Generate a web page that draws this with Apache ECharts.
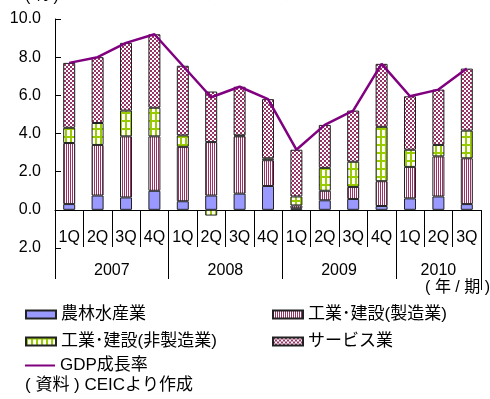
<!DOCTYPE html>
<html>
<head>
<meta charset="utf-8">
<script src="https://cdn.jsdelivr.net/npm/echarts@6/dist/echarts.min.js"></script>
<style>
  html, body { margin: 0; padding: 0; background: #fff; }
  #chart { width: 490px; height: 399px; }
</style>
</head>
<body>
<div id="chart"></div>
<script>
// Quarterly categories and year groups
const quarters = ['1Q','2Q','3Q','4Q','1Q','2Q','3Q','4Q','1Q','2Q','3Q','4Q','1Q','2Q','3Q'];
const years = ['2007', '2008', '2009', '2010'];
const quartersPerYear = [4, 4, 4, 3];

// Contributions to real GDP growth by sector (percentage points)
const agriculture      = [0.30, 0.75, 0.65, 1.00, 0.45, 0.75, 0.85, 1.25, 0.08, 0.50, 0.57, 0.20, 0.60, 0.70, 0.30];
const manufacturing    = [3.20, 2.65, 3.20, 2.85, 2.85, 2.80, 3.00, 1.35, 0.15, 0.50, 0.63, 1.30, 1.65, 2.10, 2.40];
const nonManufacturing = [0.80, 1.15, 1.35, 1.50, 0.60, -0.30, 0.05, 0.10, 0.47, 1.20, 1.32, 2.85, 0.90, 0.60, 1.45];
const services         = [3.40, 3.45, 3.55, 3.85, 3.65, 2.65, 2.55, 3.10, 2.45, 2.25, 2.68, 3.30, 2.80, 2.90, 3.25];
// Real GDP growth rate (%)
const gdpGrowth        = [7.7, 8.0, 8.75, 9.2, 7.55, 5.9, 6.45, 5.8, 3.15, 4.45, 5.2, 7.65, 5.95, 6.3, 7.4];

// Value axis ticks
const yMin = -2, yMax = 10, yStep = 2;

const FONT = "'Liberation Sans', 'Noto Sans CJK JP', sans-serif";
const CHART_HEIGHT = 399;

// Year boundaries and centres along the quarter axis
const yearBounds = [0];
quartersPerYear.forEach(n => yearBounds.push(yearBounds[yearBounds.length - 1] + n));
const yearCentres = years.map((_, i) => (yearBounds[i] + yearBounds[i + 1]) / 2);

// Hatch fills drawn on small tiles
function tile(w, h, draw) {
  const c = document.createElement('canvas');
  c.width = w; c.height = h;
  const ctx = c.getContext('2d');
  ctx.fillStyle = '#ffffff';
  ctx.fillRect(0, 0, w, h);
  draw(ctx);
  return { image: c, repeat: 'repeat' };
}
const stripeFill = tile(2, 2, ctx => {
  ctx.fillStyle = '#993366';
  ctx.fillRect(0, 0, 1, 2);
});
const gridFill = tile(5, 8, ctx => {
  ctx.fillStyle = '#99cc00';
  ctx.fillRect(0, 0, 2, 8);
  ctx.fillRect(0, 0, 5, 2);
});
const checkerFill = tile(4, 4, ctx => {
  ctx.fillStyle = '#993366';
  ctx.fillRect(0, 0, 2, 2);
  ctx.fillRect(2, 2, 2, 2);
});

const barBorder = { borderColor: '#222', borderWidth: 1 };

function barSeries(name, data, color) {
  return {
    name, type: 'bar', stack: 'total', data,
    barWidth: 12,
    itemStyle: Object.assign({ color }, barBorder),
    emphasis: { disabled: true }
  };
}

// Identical plot rectangles: the main chart plus two overlays for the year grouping
const plotRect = { left: 55, right: 9, top: 19, bottom: 151, containLabel: false, outerBoundsMode: 'none' };
const hiddenY = gridIndex => ({
  type: 'value', gridIndex, min: yMin, max: yMax, interval: yStep, show: false
});
// The category axes sit on the zero line, this far above the plot's bottom edge
const plotHeight = CHART_HEIGHT - plotRect.top - plotRect.bottom;
const zeroLift = -Math.round(plotHeight * (0 - yMin) / (yMax - yMin));

const chart = echarts.init(document.getElementById('chart'), null, { renderer: 'canvas' });

const legendText = { fontSize: 17, color: '#000', fontFamily: FONT };

chart.setOption({
  animation: false,
  textStyle: { fontFamily: FONT },
  grid: [Object.assign({}, plotRect), Object.assign({}, plotRect), Object.assign({}, plotRect)],
  xAxis: [
    {
      type: 'category',
      gridIndex: 0,
      position: 'bottom',
      offset: zeroLift,
      data: quarters,
      boundaryGap: true,
      axisLine: { onZero: false, lineStyle: { color: '#000', width: 1 } },
      axisTick: { show: true, interval: 0, inside: false, length: 37, lineStyle: { color: '#000' } },
      axisLabel: { interval: 0, margin: 20, fontSize: 16, color: '#000', fontFamily: FONT },
      splitLine: { show: false }
    },
    {
      type: 'value',
      gridIndex: 1,
      position: 'bottom',
      offset: zeroLift,
      min: 0, max: quarters.length,
      axisLine: { show: false, onZero: false },
      axisTick: { show: true, inside: false, length: 69, customValues: yearBounds.slice(0, -1), lineStyle: { color: '#000' } },
      axisLabel: {
        show: true, margin: 53, fontSize: 16, color: '#000', fontFamily: FONT,
        customValues: yearCentres,
        formatter: v => years[yearCentres.indexOf(v)] || ''
      },
      splitLine: { show: false }
    },
    {
      type: 'value',
      gridIndex: 2,
      position: 'bottom',
      offset: zeroLift,
      min: 0, max: quarters.length,
      axisLine: { show: false, onZero: false },
      axisTick: { show: true, inside: false, length: 80, customValues: [quarters.length], lineStyle: { color: '#000' } },
      axisLabel: { show: false },
      splitLine: { show: false }
    }
  ],
  yAxis: [
    {
      type: 'value',
      gridIndex: 0,
      min: yMin, max: yMax, interval: yStep,
      axisLine: { show: true, onZero: false, lineStyle: { color: '#000', width: 1 } },
      axisTick: { show: true, inside: true, length: 6, lineStyle: { color: '#000' } },
      axisLabel: {
        fontSize: 16, color: '#000', margin: 14, fontFamily: FONT,
        formatter: v => Math.abs(v).toFixed(1)
      },
      splitLine: { show: false }
    },
    hiddenY(1),
    hiddenY(2)
  ],
  legend: [
    {
      data: [{ name: '農林水産業', icon: 'rect' }, { name: '工業･建設(非製造業)', icon: 'rect' }],
      orient: 'vertical', left: 25, top: 306, padding: 0,
      itemWidth: 30, itemHeight: 8, itemGap: 10,
      selectedMode: false, textStyle: legendText
    },
    {
      data: [{ name: '工業･建設(製造業)', icon: 'rect' }, { name: 'サービス業', icon: 'rect' }],
      orient: 'vertical', left: 272, top: 306, padding: 0,
      itemWidth: 30, itemHeight: 8, itemGap: 10,
      selectedMode: false, textStyle: legendText
    },
    {
      data: [{ name: 'GDP成長率', icon: 'rect' }],
      orient: 'vertical', left: 25, top: 357, padding: 0,
      itemWidth: 30, itemHeight: 2,
      selectedMode: false, textStyle: legendText
    }
  ],
  graphic: [
    {
      type: 'text', left: 25, top: -11,
      style: { text: '( % )', font: '16px ' + FONT, fill: '#000' }
    },
    {
      type: 'text', left: 163, top: -14,
      style: { text: '中国の産業別GDP成長率寄与度', font: '15px ' + FONT, fill: '#777' }
    },
    {
      type: 'text', right: 0, top: 280,
      style: { text: '( 年 / 期 )', font: '16px ' + FONT, fill: '#000' }
    },
    {
      type: 'text', left: 25, top: 377,
      style: { text: '( 資料 ) CEICより作成', font: '17px ' + FONT, fill: '#000' }
    }
  ],
  series: [
    barSeries('農林水産業', agriculture, '#9999ff'),
    barSeries('工業･建設(製造業)', manufacturing, stripeFill),
    barSeries('工業･建設(非製造業)', nonManufacturing, gridFill),
    barSeries('サービス業', services, checkerFill),
    {
      name: 'GDP成長率', type: 'line', data: gdpGrowth,
      symbol: 'none', z: 5,
      lineStyle: { color: '#800080', width: 2.5 },
      itemStyle: { color: '#800080' },
      emphasis: { disabled: true }
    }
  ]
});
</script>
</body>
</html>
